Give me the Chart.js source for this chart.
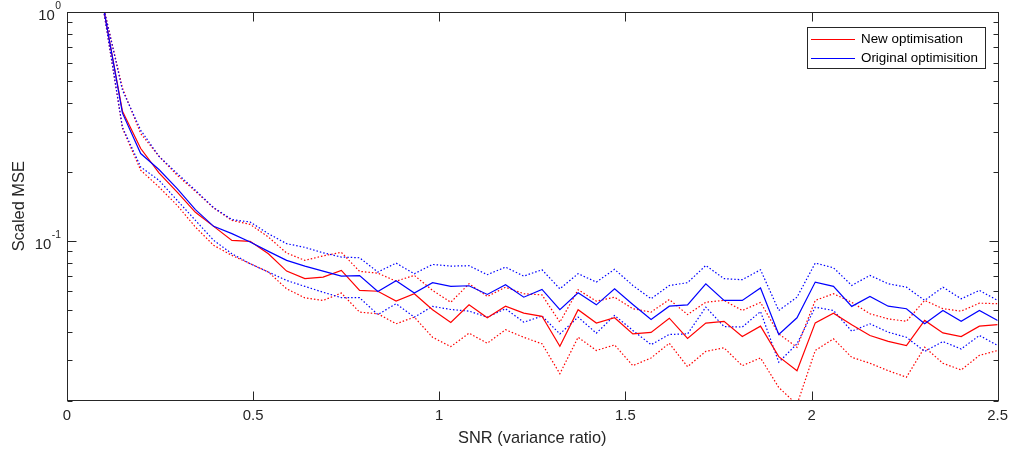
<!DOCTYPE html>
<html>
<head>
<meta charset="utf-8">
<title>Scaled MSE vs SNR</title>
<script src="https://cdn.jsdelivr.net/npm/chart.js@4.4.0/dist/chart.umd.min.js"></script>
<style>
    html, body { margin: 0; padding: 0; background: #ffffff; }
    #mse-chart { display: block; }
</style>
</head>
<body>
<canvas id="mse-chart" width="1014" height="452"></canvas>
<script>
// SNR values (x axis)
const snr = [0.100, 0.149, 0.198, 0.247, 0.296, 0.345, 0.394, 0.443, 0.492, 0.541,
    0.590, 0.639, 0.688, 0.737, 0.786, 0.835, 0.884, 0.933, 0.982, 1.031,
    1.080, 1.129, 1.178, 1.227, 1.276, 1.324, 1.373, 1.422, 1.471, 1.520,
    1.569, 1.618, 1.667, 1.716, 1.765, 1.814, 1.863, 1.912, 1.961, 2.010,
    2.059, 2.108, 2.157, 2.206, 2.255, 2.304, 2.353, 2.402, 2.451, 2.500];

// New optimisation (red)
const newMean = [1.000, 0.368, 0.253, 0.198, 0.163, 0.133, 0.1155, 0.1003, 0.0993, 0.0877,
    0.0736, 0.0682, 0.0693, 0.0741, 0.0606, 0.0601, 0.0544, 0.0586, 0.0499, 0.0439,
    0.0524, 0.0460, 0.0517, 0.0482, 0.0467, 0.0345, 0.0499, 0.0436, 0.0460, 0.0391,
    0.0397, 0.0458, 0.0374, 0.0436, 0.0444, 0.0381, 0.0423, 0.0311, 0.0270, 0.0437,
    0.0482, 0.0429, 0.0385, 0.0363, 0.0348, 0.0448, 0.0395, 0.0381, 0.0423, 0.0429];
const newUpper = [1.02, 0.465, 0.294, 0.234, 0.1932, 0.1644, 0.1389, 0.1227, 0.1178, 0.1037,
    0.0883, 0.0820, 0.0858, 0.0889, 0.0734, 0.0721, 0.0665, 0.0705, 0.0606, 0.0538,
    0.0648, 0.0570, 0.0626, 0.0586, 0.0579, 0.0440, 0.0610, 0.0544, 0.0566, 0.0504,
    0.0487, 0.0553, 0.0475, 0.0538, 0.0548, 0.0495, 0.0537, 0.0391, 0.0342, 0.0548,
    0.0586, 0.0538, 0.0479, 0.0455, 0.0444, 0.0548, 0.0504, 0.0492, 0.0533, 0.0530];
const newLower = [0.98, 0.310, 0.2032, 0.1717, 0.1427, 0.1147, 0.0954, 0.0862, 0.0793, 0.0729,
    0.0616, 0.0562, 0.0548, 0.0590, 0.0487, 0.0479, 0.0433, 0.0463, 0.0378, 0.0344,
    0.0394, 0.0356, 0.0408, 0.0378, 0.0354, 0.0262, 0.0378, 0.0331, 0.0350, 0.0284,
    0.0307, 0.0356, 0.0281, 0.0328, 0.0340, 0.0284, 0.0307, 0.0228, 0.0192, 0.0331,
    0.0372, 0.0309, 0.0291, 0.0270, 0.0253, 0.0342, 0.0291, 0.0272, 0.0315, 0.0331];

// Original optimisation (blue)
const origMean = [1.000, 0.361, 0.2405, 0.2047, 0.1689, 0.1367, 0.1155, 0.1073, 0.0986, 0.0898,
    0.0820, 0.0774, 0.0736, 0.0700, 0.0703, 0.0600, 0.0668, 0.0590, 0.0655, 0.0631,
    0.0635, 0.0582, 0.0642, 0.0566, 0.0612, 0.0499, 0.0592, 0.0524, 0.0616, 0.0526,
    0.0452, 0.0517, 0.0524, 0.0648, 0.0548, 0.0548, 0.0621, 0.0389, 0.0460, 0.0659,
    0.0631, 0.0516, 0.0570, 0.0517, 0.0504, 0.0433, 0.0495, 0.0444, 0.0495, 0.0448];
const origUpper = [1.02, 0.455, 0.304, 0.234, 0.1966, 0.1661, 0.1394, 0.1236, 0.1207, 0.1073,
    0.0970, 0.0935, 0.0885, 0.0848, 0.0842, 0.0729, 0.0798, 0.0717, 0.0787, 0.0774,
    0.0777, 0.0710, 0.0766, 0.0700, 0.0746, 0.0616, 0.0717, 0.0659, 0.0749, 0.0637,
    0.0557, 0.0637, 0.0655, 0.0779, 0.0682, 0.0675, 0.0746, 0.0495, 0.0566, 0.0798,
    0.0761, 0.0637, 0.0705, 0.0648, 0.0626, 0.0548, 0.0626, 0.0557, 0.0606, 0.0548];
const origLower = [0.98, 0.313, 0.210, 0.1837, 0.1501, 0.1227, 0.1003, 0.0877, 0.0793, 0.0729,
    0.0670, 0.0631, 0.0595, 0.0563, 0.0563, 0.0475, 0.0530, 0.0463, 0.0516, 0.0500,
    0.0492, 0.0463, 0.0504, 0.0440, 0.0468, 0.0391, 0.0463, 0.0394, 0.0471, 0.0405,
    0.0351, 0.0389, 0.0391, 0.0512, 0.0421, 0.0419, 0.0490, 0.0294, 0.0354, 0.0512,
    0.0495, 0.0402, 0.0433, 0.0398, 0.0378, 0.0328, 0.0362, 0.0336, 0.0385, 0.0348];

// Ticks
const xTickValues = [0, 0.5, 1, 1.5, 2, 2.5];
const xTickLabels = ['0', '0.5', '1', '1.5', '2', '2.5'];
const yMajorTicks = [0.1, 1];
const yMajorExponents = ['-1', '0'];
const yMinorTicks = [0.02, 0.03, 0.04, 0.05, 0.06, 0.07, 0.08, 0.09,
    0.2, 0.3, 0.4, 0.5, 0.6, 0.7, 0.8, 0.9];

// Legend entries
const legendLabels = ['New optimisation', 'Original optimisition'];
const legendColors = ['#ff0000', '#0000ff'];

const FONT_FAMILY = '"Liberation Sans", Arial, Helvetica, sans-serif';
const TICK_SIZE = 14.9;    // 10pt
const LABEL_SIZE = 16.4;   // 11pt
const LEGEND_SIZE = 13.4;  // 9pt
const AXIS_COLOR = '#262626';
const RED = '#ff0000';
const BLUE = '#0000ff';

// Build points for a series
function toPoints(values) {
    return snr.map((x, i) => ({ x: x, y: values[i] }));
}

// Axes box, inward tick marks and 10^n labels (MATLAB look)
const axesFramePlugin = {
    id: 'axesFrame',
    afterDatasetsDraw(chart) {
        const { ctx, chartArea: area, scales: { x, y } } = chart;
        const left = Math.round(area.left) + 0.5;
        const right = Math.round(area.right) + 0.5;
        const top = Math.round(area.top) + 0.5;
        const bottom = Math.round(area.bottom) - 0.5;

        ctx.save();
        ctx.strokeStyle = AXIS_COLOR;
        ctx.lineWidth = 1;
        ctx.strokeRect(left, top, right - left, bottom - top);

        ctx.beginPath();
        // x ticks, bottom and top
        xTickValues.forEach(v => {
            const px = Math.round(x.getPixelForValue(v)) + 0.5;
            ctx.moveTo(px, bottom); ctx.lineTo(px, bottom - 9);
            ctx.moveTo(px, top); ctx.lineTo(px, top + 9);
        });
        // y ticks, left and right
        const yTick = (v, len) => {
            const py = Math.round(y.getPixelForValue(v)) + 0.5;
            ctx.moveTo(left, py); ctx.lineTo(left + len, py);
            ctx.moveTo(right, py); ctx.lineTo(right - len, py);
        };
        yMajorTicks.forEach(v => yTick(v, 9));
        yMinorTicks.forEach(v => yTick(v, 5));
        ctx.stroke();

        // y labels as 10 with a raised exponent
        ctx.fillStyle = AXIS_COLOR;
        ctx.textAlign = 'right';
        yMajorTicks.forEach((v, i) => {
            const py = y.getPixelForValue(v);
            const labelRight = area.left - 6;
            ctx.font = `10.4px ${FONT_FAMILY}`;
            ctx.textBaseline = 'alphabetic';
            const expWidth = ctx.measureText(yMajorExponents[i]).width;
            ctx.fillText(yMajorExponents[i], labelRight, py - 3);
            ctx.font = `${TICK_SIZE}px ${FONT_FAMILY}`;
            ctx.textBaseline = 'middle';
            ctx.fillText('10', labelRight - expWidth - 0.5, py + 4);
        });
        ctx.restore();
    }
};

// Boxed legend in the top right corner
const boxedLegendPlugin = {
    id: 'boxedLegend',
    afterDraw(chart) {
        const { ctx, chartArea: area } = chart;
        const boxRight = Math.round(area.right) - 13;
        const boxTop = Math.round(area.top) + 15;
        const boxWidth = 178;
        const rowHeight = 19;
        const boxHeight = 41;
        const boxLeft = boxRight - boxWidth;

        ctx.save();
        ctx.fillStyle = '#ffffff';
        ctx.fillRect(boxLeft, boxTop, boxWidth, boxHeight);
        ctx.strokeStyle = AXIS_COLOR;
        ctx.lineWidth = 1;
        ctx.strokeRect(boxLeft + 0.5, boxTop + 0.5, boxWidth, boxHeight);

        ctx.font = `${LEGEND_SIZE}px ${FONT_FAMILY}`;
        ctx.textAlign = 'left';
        ctx.textBaseline = 'middle';
        legendLabels.forEach((label, i) => {
            const rowY = boxTop + 12.5 + i * rowHeight;
            ctx.strokeStyle = legendColors[i];
            ctx.lineWidth = 1.2;
            ctx.beginPath();
            ctx.moveTo(boxLeft + 4, rowY);
            ctx.lineTo(boxLeft + 48, rowY);
            ctx.stroke();
            ctx.fillStyle = '#000000';
            ctx.fillText(label, boxLeft + 54, rowY);
        });
        ctx.restore();
    }
};

const solidLine = { borderWidth: 1.2, pointRadius: 0, tension: 0, fill: false };
const dottedLine = { borderWidth: 1.2, pointRadius: 0, tension: 0, fill: false, borderDash: [1.5, 2] };

new Chart(document.getElementById('mse-chart').getContext('2d'), {
    type: 'line',
    data: {
        datasets: [
            { ...solidLine, label: legendLabels[1], data: toPoints(origMean), borderColor: BLUE },
            { ...solidLine, label: legendLabels[0], data: toPoints(newMean), borderColor: RED },
            { ...dottedLine, label: 'Original upper', data: toPoints(origUpper), borderColor: BLUE },
            { ...dottedLine, label: 'Original lower', data: toPoints(origLower), borderColor: BLUE },
            { ...dottedLine, label: 'New upper', data: toPoints(newUpper), borderColor: RED },
            { ...dottedLine, label: 'New lower', data: toPoints(newLower), borderColor: RED }
        ]
    },
    options: {
        responsive: false,
        animation: false,
        devicePixelRatio: 1,
        layout: { padding: { top: 12, right: 12, left: 0, bottom: 0 } },
        plugins: {
            legend: { display: false },
            tooltip: { enabled: false }
        },
        scales: {
            x: {
                type: 'linear',
                min: 0,
                max: 2.5,
                grid: { display: false, drawTicks: false },
                border: { display: false },
                afterBuildTicks: (scale) => {
                    scale.ticks = xTickValues.map(v => ({ value: v }));
                },
                ticks: {
                    callback: (value, index) => xTickLabels[index],
                    color: AXIS_COLOR,
                    font: { family: FONT_FAMILY, size: TICK_SIZE },
                    padding: 6,
                    maxRotation: 0,
                    autoSkip: false
                },
                title: {
                    display: true,
                    text: 'SNR (variance ratio)',
                    color: AXIS_COLOR,
                    font: { family: FONT_FAMILY, size: LABEL_SIZE },
                    padding: { top: 0, bottom: 4 }
                },
                afterFit: (scale) => { scale.height = 51.5; }
            },
            y: {
                type: 'logarithmic',
                min: 0.02,
                max: 1,
                grid: { display: false, drawTicks: false },
                border: { display: false },
                ticks: { display: false },
                title: {
                    display: true,
                    text: 'Scaled MSE',
                    color: AXIS_COLOR,
                    font: { family: FONT_FAMILY, size: LABEL_SIZE },
                    padding: { top: 10, bottom: 0 }
                },
                afterFit: (scale) => { scale.width = 67; }
            }
        }
    },
    plugins: [axesFramePlugin, boxedLegendPlugin]
});
</script>
</body>
</html>
